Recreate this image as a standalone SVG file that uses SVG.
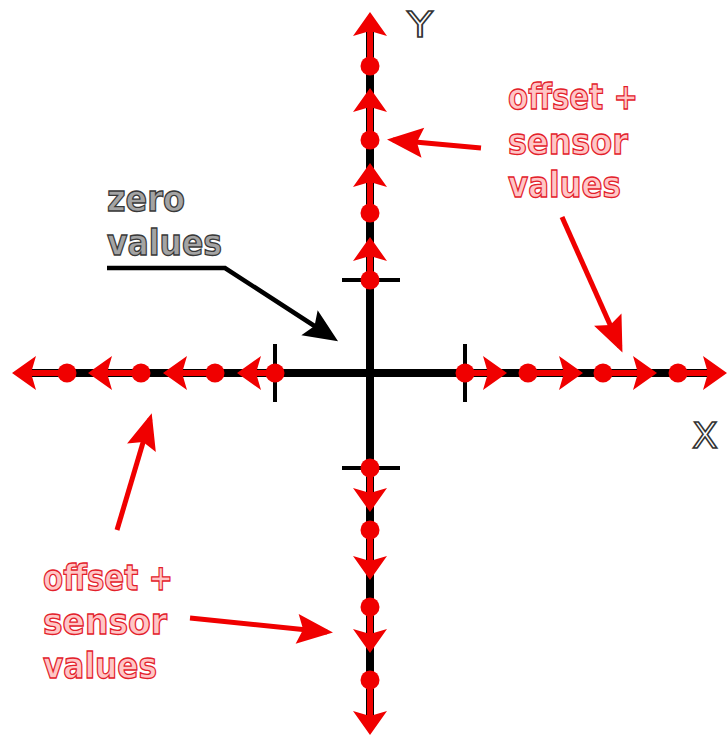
<svg xmlns="http://www.w3.org/2000/svg" width="728" height="737" viewBox="0 0 728 737">
<style>
.ax{stroke:#000;stroke-width:8;fill:none}
.tick{stroke:#000;stroke-width:4;fill:none}
.seg{stroke:#f00000;stroke-width:6;fill:none;marker-end:url(#ah)}
.dot{fill:#f00000}
.ptr{stroke:#f00000;stroke-width:5;fill:none;marker-end:url(#rh)}
.bptr{stroke:#000;stroke-width:4.5;fill:none;marker-end:url(#bh)}
.rt{font-family:"DejaVu Sans","Liberation Sans",sans-serif;font-weight:bold;font-size:35px;fill:#ffc6c6;stroke:#e3202a;stroke-width:1.3}
.gt{font-family:"DejaVu Sans","Liberation Sans",sans-serif;font-weight:bold;font-size:35px;fill:#a4a4a4;stroke:#383838;stroke-width:1.3}
.lt{font-family:"DejaVu Sans","Liberation Sans",sans-serif;font-size:35px;fill:#fff;stroke:#333;stroke-width:1.5}
</style>
<defs>
<marker id="ah" markerUnits="userSpaceOnUse" orient="auto" viewBox="-14 -18 28 36" refX="0" refY="0" markerWidth="28" markerHeight="36" overflow="visible">
<path d="M12,0 L-12,-17 L-7,0 L-12,17 Z" fill="#f00000"/>
</marker>
<marker id="rh" markerUnits="userSpaceOnUse" orient="auto" viewBox="-30 -16 40 32" refX="0" refY="0" markerWidth="40" markerHeight="32" overflow="visible">
<path d="M6,0 L-30,-15 L-24,0 L-30,15 Z" fill="#f00000"/>
</marker>
<marker id="bh" markerUnits="userSpaceOnUse" orient="auto" viewBox="-30 -16 40 32" refX="0" refY="0" markerWidth="40" markerHeight="32" overflow="visible">
<path d="M6,0 L-28,-15 L-22,0 L-28,15 Z" fill="#000"/>
</marker>
</defs>

<g id="axes">
<line class="ax" x1="370" y1="30" x2="370" y2="716"/>
<line class="ax" x1="30" y1="373" x2="710" y2="373"/>
<line class="tick" x1="342" y1="280" x2="400" y2="280"/>
<line class="tick" x1="342" y1="468" x2="400" y2="468"/>
<line class="tick" x1="275" y1="344" x2="275" y2="402"/>
<line class="tick" x1="465" y1="344" x2="465" y2="402"/>
</g>

<g id="y-positive">
<line class="seg" x1="370" y1="280" x2="370" y2="249"/>
<line class="seg" x1="370" y1="213" x2="370" y2="175"/>
<line class="seg" x1="370" y1="140" x2="370" y2="100"/>
<line class="seg" x1="370" y1="66" x2="370" y2="24"/>
<circle class="dot" cx="370" cy="280" r="9.5"/>
<circle class="dot" cx="370" cy="213" r="9.5"/>
<circle class="dot" cx="370" cy="140" r="9.5"/>
<circle class="dot" cx="370" cy="66" r="9.5"/>
</g>

<g id="y-negative">
<line class="seg" x1="370" y1="468" x2="370" y2="500"/>
<line class="seg" x1="370" y1="530" x2="370" y2="568"/>
<line class="seg" x1="370" y1="607" x2="370" y2="641"/>
<line class="seg" x1="370" y1="680" x2="370" y2="723"/>
<circle class="dot" cx="370" cy="468" r="9.5"/>
<circle class="dot" cx="370" cy="530" r="9.5"/>
<circle class="dot" cx="370" cy="607" r="9.5"/>
<circle class="dot" cx="370" cy="680" r="9.5"/>
</g>

<g id="x-positive">
<line class="seg" x1="465" y1="373" x2="495" y2="373"/>
<line class="seg" x1="528" y1="373" x2="571" y2="373"/>
<line class="seg" x1="603" y1="373" x2="645" y2="373"/>
<line class="seg" x1="678" y1="373" x2="715" y2="373"/>
<circle class="dot" cx="465" cy="373" r="9.5"/>
<circle class="dot" cx="528" cy="373" r="9.5"/>
<circle class="dot" cx="603" cy="373" r="9.5"/>
<circle class="dot" cx="678" cy="373" r="9.5"/>
</g>

<g id="x-negative">
<line class="seg" x1="275" y1="373" x2="249" y2="373"/>
<line class="seg" x1="215" y1="373" x2="175" y2="373"/>
<line class="seg" x1="141" y1="373" x2="100" y2="373"/>
<line class="seg" x1="67" y1="373" x2="24" y2="373"/>
<circle class="dot" cx="275" cy="373" r="9.5"/>
<circle class="dot" cx="215" cy="373" r="9.5"/>
<circle class="dot" cx="141" cy="373" r="9.5"/>
<circle class="dot" cx="67" cy="373" r="9.5"/>
</g>

<g id="connectors">
<polyline class="bptr" points="107,268 225,268 333,338"/>
<line class="ptr" x1="481" y1="148" x2="393" y2="140"/>
<line class="ptr" x1="562" y1="217" x2="620" y2="347"/>
<line class="ptr" x1="117" y1="530" x2="150" y2="419"/>
<line class="ptr" x1="190" y1="618" x2="327" y2="632"/>
</g>

<g id="label-zero">
<text class="gt" x="107" y="211" textLength="78" lengthAdjust="spacingAndGlyphs">zero</text>
<text class="gt" x="107" y="255" textLength="115" lengthAdjust="spacingAndGlyphs">values</text>
</g>

<g id="label-offset-top">
<text class="rt" x="508" y="109" textLength="130" lengthAdjust="spacingAndGlyphs">offset +</text>
<text class="rt" x="508" y="154" textLength="120" lengthAdjust="spacingAndGlyphs">sensor</text>
<text class="rt" x="508" y="197" textLength="113" lengthAdjust="spacingAndGlyphs">values</text>
</g>

<g id="label-offset-bottom">
<text class="rt" x="43" y="590" textLength="130" lengthAdjust="spacingAndGlyphs">offset +</text>
<text class="rt" x="43" y="634" textLength="124" lengthAdjust="spacingAndGlyphs">sensor</text>
<text class="rt" x="43" y="678" textLength="114" lengthAdjust="spacingAndGlyphs">values</text>
</g>

<g id="label-y"><text class="lt" x="407" y="37" textLength="26" lengthAdjust="spacingAndGlyphs">Y</text></g>
<g id="label-x"><text class="lt" x="692" y="448" textLength="26" lengthAdjust="spacingAndGlyphs">X</text></g>
</svg>
